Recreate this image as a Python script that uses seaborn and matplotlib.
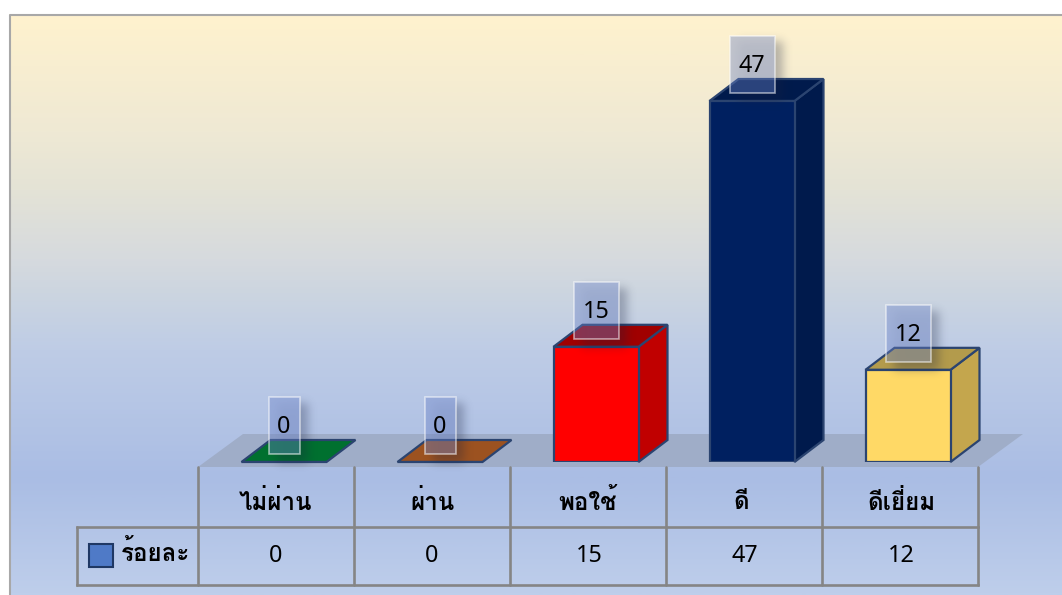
import logging
from math import erf
import numpy as np
import matplotlib
matplotlib.use('Agg')
import matplotlib.pyplot as plt
import seaborn as sns
from matplotlib.colors import LinearSegmentedColormap
from matplotlib.patches import Polygon, Rectangle
from matplotlib.lines import Line2D

logging.getLogger('matplotlib.font_manager').setLevel(logging.ERROR)

# --- data ---
categories = ['ไม่ผ่าน', 'ผ่าน', 'พอใช้', 'ดี', 'ดีเยี่ยม']
values = [0, 0, 15, 47, 12]
series_name = 'ร้อยละ'
front_colors = ['#00702F', '#9C5220', '#FF0000', '#002060', '#FFD966']
top_colors = ['#00702F', '#9C5220', '#A00000', '#001A4C', '#B39B4C']
side_colors = ['#005A26', '#7D421A', '#C00000', '#001A4C', '#C4A64D']

W, H = 1062, 595
sns.set_theme(style='white')
FONT = ['Noto Sans', 'Loma', 'IBM Plex Sans Thai Looped', 'DejaVu Sans']
plt.rcParams['font.family'] = FONT

fig = plt.figure(figsize=(W / 100, H / 100), dpi=100, facecolor='white')

# background layer in pixel coordinates
bg = fig.add_axes([0, 0, 1, 1], zorder=0)
stops = [(0.0, '#FFF2CE'), (0.2, '#EFE9D4'), (0.3, '#E4E3D6'), (0.42, '#D6DADE'),
         (0.48, '#CCD5E0'), (0.58, '#BECCE6'), (0.8, '#AABDE4'), (1.0, '#BECEEB')]
cmap = LinearSegmentedColormap.from_list('bg', stops)
bg.imshow(np.linspace(0, 1, 400)[:, None], cmap=cmap, aspect='auto',
          extent=(9, W, H, 14), zorder=0)
bg.set_xlim(0, W); bg.set_ylim(H, 0); bg.axis('off')
bg.add_line(Line2D([9.5, 9.5, W], [H, 14.5, 14.5], color='#A8A8A8', lw=1.5, zorder=1))
# floor
bg.add_patch(Polygon([(198, 467), (978, 467), (1023, 434), (243, 434)],
                     closed=True, fc='#9FADC8', ec='none', zorder=1))
# table grid
grid_c = '#858585'
xs = [198, 354, 510, 666, 822, 978]
for x in xs:
    bg.add_line(Line2D([x, x], [467, 585], color=grid_c, lw=1.9, zorder=2))
bg.add_line(Line2D([77, 77], [527, 585], color=grid_c, lw=1.9, zorder=2))
for y in (527, 585):
    bg.add_line(Line2D([77, 978], [y, y], color=grid_c, lw=1.9, zorder=2, solid_capstyle='projecting'))
# legend swatch
bg.add_patch(Rectangle((89, 544), 24, 23, fc='#4F7AC7', ec='#1F3864', lw=1.5, zorder=3))
FS = 16.8
THAI = 17.4
bg.text(121, 554, series_name, fontsize=THAI, fontweight='bold', ha='left', va='center', color='black', zorder=3)
label_x = [276, 432, 588, 741, 901]
for xp, c, v, vx in zip(label_x, categories, values, [276, 432, 589, 745, 901]):
    bg.text(xp, 503, c, fontsize=THAI, fontweight='bold', ha='center', va='center', color='black', zorder=3)
    bg.text(vx, 556, str(v), fontsize=FS, ha='center', va='center', color='black', zorder=3)

# bar layer: front faces come from seaborn
BASE = 462.0
PX_PER_UNIT = 361 / 47
left, right = 206, 986
ax = fig.add_axes([left / W, (H - BASE) / H, (right - left) / W, BASE / H], zorder=1)
ax.patch.set_alpha(0)
edge = '#2B4470'
sns.barplot(x=categories, y=values, hue=categories, palette=front_colors, legend=False,
            width=85 / 156, edgecolor=edge, linewidth=1.6, ax=ax, saturation=1, zorder=3)

ux = 5 / (right - left)          # data x units per pixel
uy = 1 / PX_PER_UNIT             # data y units per pixel
dx, dy = 29 * ux, 22 * uy
hw = 85 / 156 / 2


def soft_shadow(w, h, pad=26, sigma=6.5, peak=0.3):
    """RGBA soft shadow of a w x h pixel box, offset down-right, faint under the box."""
    xx = np.arange(-pad, w + pad) + 0.5
    yy = np.arange(-pad, h + pad) + 0.5
    e = np.vectorize(erf)
    mx = 0.5 * (e((xx - 8) / sigma) - e((xx - (w + 8)) / sigma))
    my = 0.5 * (e((yy - 6) / sigma) - e((yy - (h + 8)) / sigma))
    a = np.outer(my, mx) * peak
    inside = np.outer((yy > 0) & (yy < h), (xx > 0) & (xx < w))
    a[inside] *= 0.25
    rgba = np.zeros(a.shape + (4,))
    rgba[..., :3] = (0.10, 0.13, 0.25)
    rgba[..., 3] = a
    return rgba, pad


for i, v in enumerate(values):
    x0, x1 = i - hw, i + hw
    if v > 0:
        ax.add_patch(Polygon([(x1, 0), (x1 + dx, dy), (x1 + dx, v + dy), (x1, v)], closed=True,
                             fc=side_colors[i], ec=edge, lw=1.6, clip_on=False, zorder=2))
    ax.add_patch(Polygon([(x0, v), (x1, v), (x1 + dx, v + dy), (x0 + dx, v + dy)], closed=True,
                         fc=top_colors[i], ec=edge, lw=1.6, clip_on=False, zorder=2))
    # data label box with soft shadow
    bw_px = 31 if v == 0 else 45
    bw = bw_px * ux
    y0, h = v + 8 * uy, 57 * uy
    img, pad = soft_shadow(bw_px, 57)
    ax.imshow(img, origin='upper', aspect='auto', interpolation='bilinear', zorder=4,
              extent=(i - bw / 2 - pad * ux, i + bw / 2 + pad * ux, y0 - pad * uy, y0 + h + pad * uy),
              clip_on=False)
    ax.add_patch(Rectangle((i - bw / 2, y0), bw, h, fc='#6A82C8', ec='none', alpha=0.40,
                           clip_on=False, zorder=5))
    ax.add_patch(Rectangle((i - bw / 2, y0), bw, h, fc='none', ec=(1, 1, 1, 0.55), lw=1.2,
                           clip_on=False, zorder=6))
    ax.text(i, y0 + 27 * uy, str(v), fontsize=FS, ha='center', va='center', color='black', zorder=7)

ax.set_xlim(-0.5, 4.5)
ax.set_ylim(0, BASE / PX_PER_UNIT)
ax.axis('off')

fig.savefig('out.png', dpi=100)
